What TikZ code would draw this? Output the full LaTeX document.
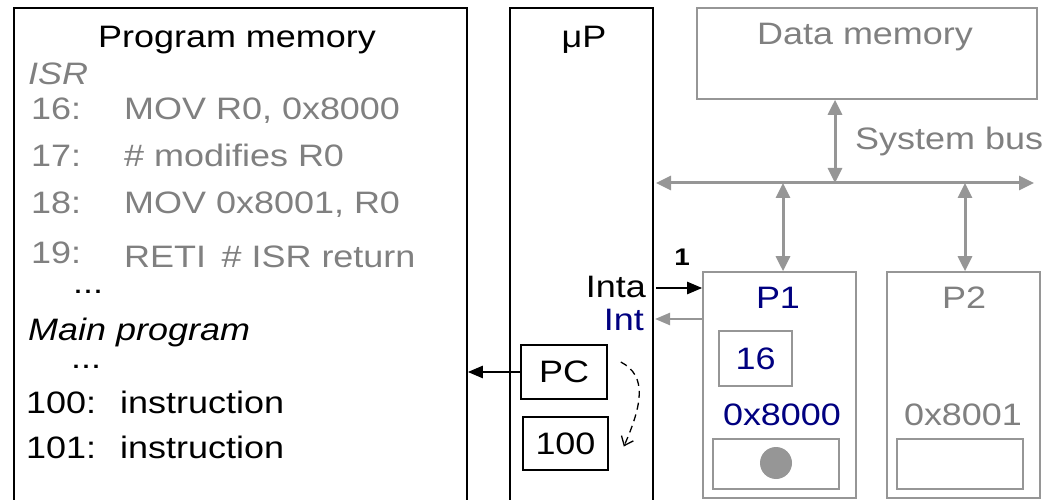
\documentclass[tikz,border=0pt]{standalone}
\usepackage{fontspec}
\setmainfont{Liberation Sans}[FakeStretch=1.16]
\usetikzlibrary{arrows.meta,calc}
\definecolor{tgray}{RGB}{128,128,128}
\definecolor{lgray}{RGB}{150,150,150}
\definecolor{navyc}{RGB}{0,0,128}
\begin{document}
\begin{tikzpicture}[x=1pt,y=-1pt,
  txt/.style={inner sep=0pt, font=\fontsize{31}{37}\selectfont},
  ittxt/.style={inner sep=0pt, font=\fontsize{31}{37}\selectfont\itshape},
  box/.style={draw=black, line width=1.6pt, inner sep=0pt, font=\fontsize{31}{37}\selectfont},
  gbox/.style={draw=lgray, line width=1.6pt, inner sep=0pt, font=\fontsize{31}{37}\selectfont},
  bus/.style={draw=lgray, line width=3pt, {Triangle[length=15pt,width=14pt]}-{Triangle[length=15pt,width=14pt]}},
  barrow/.style={draw=black, line width=2.4pt, -{Triangle[length=15pt,width=12pt]}},
  garrow/.style={draw=lgray, line width=2.4pt, -{Triangle[length=15pt,width=12pt]}},
]
\useasboundingbox (0,0) rectangle (1061,500);
% big boxes
\node[box, minimum width=453pt, minimum height=502pt] (pm) at (240.5,259) {};
\node[box, minimum width=143pt, minimum height=502pt] (uP) at (581.5,259) {};
\node[gbox, minimum width=340pt, minimum height=91pt] (DM) at (867,53.5) {};
\node[gbox, minimum width=153pt, minimum height=226pt] (P1) at (779.5,385) {};
\node[gbox, minimum width=153pt, minimum height=226pt] (P2) at (963.5,385) {};
\node[gbox, minimum width=73pt, minimum height=55pt, text=navyc] (R16) at (755.5,358.5) {16};
\node[gbox, minimum width=126pt, minimum height=50pt] (P1b) at (776,464) {};
\node[gbox, minimum width=126pt, minimum height=50pt] (P2b) at (960,464) {};
\node[circle, fill=lgray, minimum size=32pt, inner sep=0pt] (dot) at (776,463) {};
\node[box, minimum width=86pt, minimum height=54pt] (PC) at (564,372) {PC};
\node[box, minimum width=85pt, minimum height=53pt] (R100) at (565.5,443.5) {100};
% program memory texts
\node[txt, anchor=base] (pmt) at (237,48) {Program memory};
\node[ittxt, anchor=base west, text=tgray] (isr) at (28,85) {ISR};
\node[txt, anchor=base west, text=tgray] (n16) at (31,120) {16:};
\node[txt, anchor=base west, text=tgray] (i16) at (124,120) {MOV R0, 0x8000};
\node[txt, anchor=base west, text=tgray] (n17) at (31,167) {17:};
\node[txt, anchor=base west, text=tgray] (i17) at (124,167) {\# modifies R0};
\node[txt, anchor=base west, text=tgray] (n18) at (31,214) {18:};
\node[txt, anchor=base west, text=tgray] (i18) at (124,214) {MOV 0x8001, R0};
\node[txt, anchor=base west, text=tgray] (n19) at (31,263) {19:};
\node[txt, anchor=base west, text=tgray] (i19) at (124,267) {RETI\enspace\# ISR return};
\node[txt, anchor=base west] (d1) at (73,293) {...};
\node[ittxt, anchor=base west] (mainp) at (28,340) {Main program};
\node[txt, anchor=base west] (d2) at (71,368) {...};
\node[txt, anchor=base west] (n100) at (26,413) {100:};
\node[txt, anchor=base west] (i100) at (120,413) {instruction};
\node[txt, anchor=base west] (n101) at (26,458) {101:};
\node[txt, anchor=base west] (i101) at (120,458) {instruction};
% uP texts
\node[txt, anchor=base] (upt) at (584,48) {μP};
\node[txt, anchor=base east] (inta) at (646,297) {Inta};
\node[txt, anchor=base east, text=navyc] (int) at (644,330) {Int};
\node[inner sep=0pt, font=\fontsize{24}{28}\selectfont\bfseries] (one) at (682,257) {1};
% right texts
\node[txt, anchor=base, text=tgray] (dmt) at (865,45) {Data memory};
\node[txt, anchor=base west, text=tgray] (sbus) at (855,150) {System bus};
\node[txt, anchor=base, text=navyc] (p1t) at (778,308) {P1};
\node[txt, anchor=base, text=tgray] (p2t) at (964,308) {P2};
\node[txt, anchor=base, text=navyc] (a1) at (782,425) {0x8000};
\node[txt, anchor=base, text=tgray] (a2) at (963,425) {0x8001};
% bus
\coordinate (busL) at (656,183);
\coordinate (busR) at (1034,183);
\draw[bus] (busL) -- (busR);
\coordinate (dmtap) at (835,183);
\draw[bus] (dmtap |- DM.south) -- (dmtap);
\coordinate (p1tap) at (783,183);
\draw[bus] (p1tap) -- (p1tap |- P1.north);
\coordinate (p2tap) at (965,183);
\draw[bus] (p2tap) -- (p2tap |- P2.north);
% interrupt lines
\coordinate (intaS) at (656,288);
\draw[barrow] (intaS) -- (intaS -| P1.west);
\coordinate (intE) at (655,319);
\draw[garrow] (intE -| P1.west) -- (intE);
% PC to program memory
\draw[barrow] (PC.west) -- (PC.west -| pm.east);
% dashed
\draw[line width=1.3pt, dash pattern=on 7pt off 5pt, -{Straight Barb[length=8pt,width=13pt]}]
  ($(PC.east)+(13,-10)$) .. controls ($(PC.east)+(40,4)$) and ($(R100.east)+(33,-38)$) .. ($(R100.east)+(15,3)$);
\end{tikzpicture}
\end{document}
